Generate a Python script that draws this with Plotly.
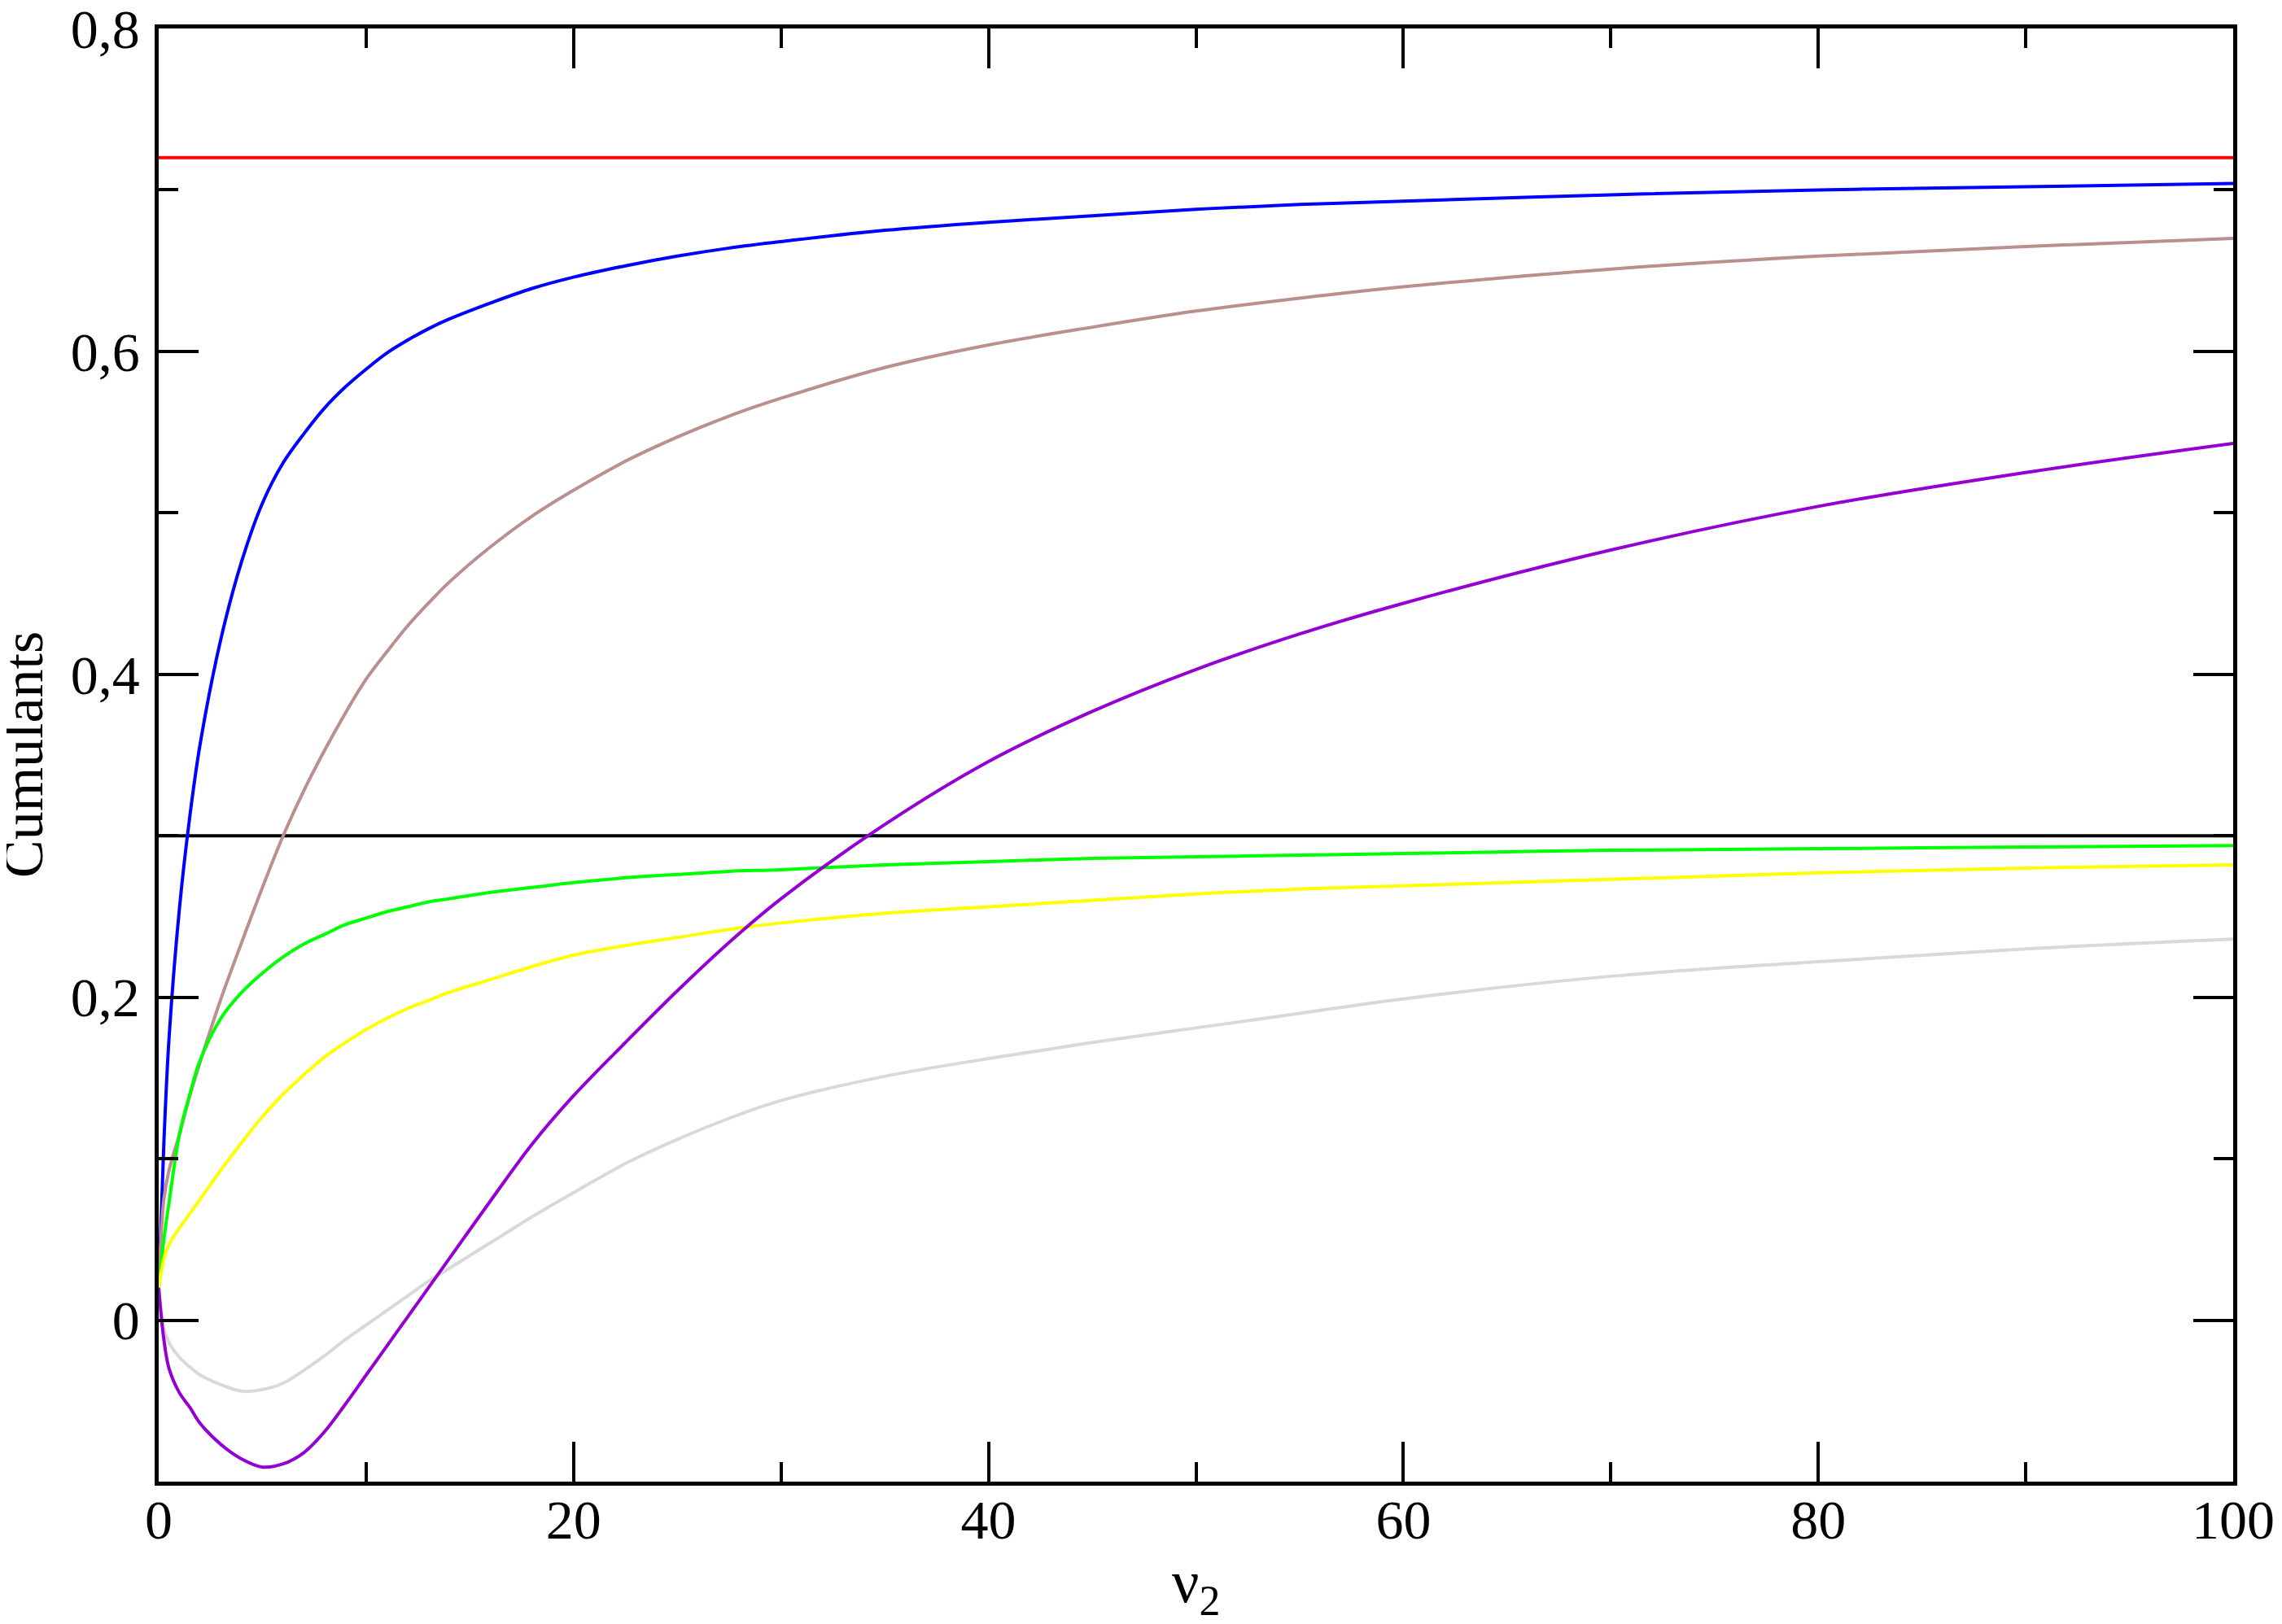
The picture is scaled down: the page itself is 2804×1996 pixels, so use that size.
"""
Cumulants versus nu_2 - recreated with Plotly
"""

import plotly.graph_objects as go

# x grid shared by every curve
nu2 = [0, 0.25, 0.5, 1, 1.5, 2, 3, 4, 5, 6, 7, 8, 9, 10, 11, 12, 13, 14, 16,
       18, 20, 22.5, 25, 27.5, 30, 35, 40, 45, 50, 55, 60, 70, 80, 90, 100]

blue = [0.02, 0.11, 0.175, 0.255, 0.312, 0.357, 0.422, 0.47, 0.506, 0.531,
        0.549, 0.565, 0.578, 0.589, 0.599, 0.607, 0.614, 0.62, 0.63, 0.639,
        0.646, 0.653, 0.659, 0.664, 0.668, 0.675, 0.68, 0.684, 0.688, 0.691,
        0.693, 0.697, 0.7, 0.702, 0.704]

brown = [0.02, 0.075, 0.093, 0.115, 0.139, 0.16, 0.199, 0.234, 0.268, 0.3,
         0.328, 0.353, 0.376, 0.397, 0.414, 0.43, 0.444, 0.457, 0.479, 0.498,
         0.514, 0.532, 0.547, 0.56, 0.571, 0.59, 0.604, 0.615, 0.625, 0.633,
         0.64, 0.651, 0.659, 0.665, 0.67]

green = [0.02, 0.05, 0.073, 0.115, 0.14, 0.161, 0.187, 0.203, 0.215, 0.225,
         0.233, 0.239, 0.245, 0.249, 0.253, 0.256, 0.259, 0.261, 0.265, 0.268,
         0.271, 0.274, 0.276, 0.278, 0.279, 0.282, 0.284, 0.286, 0.287, 0.288,
         0.289, 0.291, 0.292, 0.293, 0.294]

yellow = [0.02, 0.038, 0.047, 0.057, 0.066, 0.075, 0.093, 0.11, 0.126, 0.14,
          0.152, 0.163, 0.172, 0.18, 0.187, 0.193, 0.198, 0.203, 0.211, 0.219,
          0.226, 0.232, 0.237, 0.242, 0.246, 0.252, 0.256, 0.26, 0.264, 0.267,
          0.269, 0.273, 0.277, 0.28, 0.282]

gray = [0.02, -0.005, -0.014, -0.023, -0.029, -0.034, -0.04, -0.044, -0.043,
        -0.039, -0.031, -0.022, -0.012, -0.003, 0.006, 0.015, 0.024, 0.032,
        0.048, 0.064, 0.079, 0.097, 0.112, 0.125, 0.136, 0.151, 0.162, 0.172,
        0.181, 0.19, 0.199, 0.213, 0.222, 0.23, 0.236]

purple = [0.02, -0.012, -0.03, -0.045, -0.054, -0.064, -0.077, -0.086, -0.091,
          -0.089, -0.082, -0.069, -0.052, -0.034, -0.016, 0.002, 0.02, 0.038,
          0.074, 0.109, 0.139, 0.172, 0.204, 0.234, 0.261, 0.307, 0.346, 0.377,
          0.403, 0.425, 0.444, 0.477, 0.504, 0.525, 0.543]

# constant reference levels
red_level = 0.72
black_level = 0.3
x_span = [0, 100]

FONT = 'Liberation Serif'
LW = 4

fig = go.Figure()

# horizontal reference lines
fig.add_trace(go.Scatter(x=x_span, y=[black_level] * 2, mode='lines',
                         line=dict(color='#000000', width=LW)))
fig.add_trace(go.Scatter(x=x_span, y=[red_level] * 2, mode='lines',
                         line=dict(color='#FF0000', width=LW)))

curves = [
    (blue, '#0000FF'),
    (brown, '#BC8F8F'),
    (green, '#00FF00'),
    (yellow, '#FFFF00'),
    (gray, '#D9D9D9'),
    (purple, '#9400D3'),
]
for values, color in curves:
    fig.add_trace(go.Scatter(
        x=nu2, y=values, mode='lines',
        line=dict(color=color, width=LW, shape='spline', smoothing=1.0)
    ))

axis_common = dict(
    showline=True, linecolor='black', linewidth=4.5, mirror='ticks',
    ticks='inside', ticklen=49, tickwidth=3.5, tickcolor='black',
    showgrid=False, zeroline=False, automargin=False,
    ticklabeloverflow='allow',
    tickfont=dict(family=FONT, size=68, color='black'),
)

fig.update_xaxes(
    range=[0, 100], tickvals=[0, 20, 40, 60, 80, 100],
    minor=dict(tickvals=[10, 30, 50, 70, 90], ticks='inside', ticklen=24,
               tickwidth=3.5, tickcolor='black', showgrid=False),
    ticklabelstandoff=-16,
    **axis_common
)
fig.update_yaxes(
    range=[-0.1, 0.8], tickvals=[0, 0.2, 0.4, 0.6, 0.8],
    minor=dict(tickvals=[-0.1, 0.1, 0.3, 0.5, 0.7], ticks='inside', ticklen=24,
               tickwidth=3.5, tickcolor='black', showgrid=False),
    ticklabelstandoff=5,
    **axis_common
)

# axis titles placed as annotations for exact positioning
fig.add_annotation(text='ν<sub>2</sub>', xref='paper', yref='paper',
                   x=0.5, y=-0.072, xanchor='center', yanchor='middle',
                   showarrow=False,
                   font=dict(family=FONT, size=74, color='black'))
fig.add_annotation(text='Cumulants', xref='paper', yref='paper',
                   x=-0.0655, y=0.5, xanchor='center', yanchor='middle',
                   textangle=-90, showarrow=False,
                   font=dict(family=FONT, size=70, color='black'))

# the page body adds an 8px margin, so the figure is 8px smaller each way
fig.update_layout(
    width=2796, height=1988,
    margin=dict(l=187, r=60, t=27, b=175),
    paper_bgcolor='white', plot_bgcolor='white',
    separators=', ',
    showlegend=False,
)

fig.write_html("out.html")
